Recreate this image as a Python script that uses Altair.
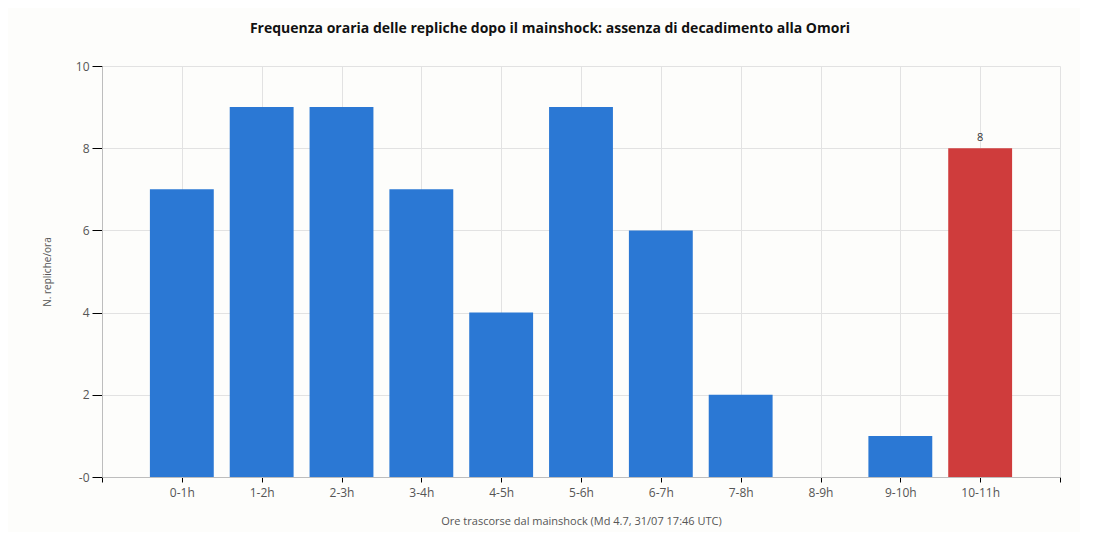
import json
import altair as alt
import pandas as pd

labels = ["0-1h", "1-2h", "2-3h", "3-4h", "4-5h", "5-6h", "6-7h", "7-8h", "8-9h", "9-10h", "10-11h"]
counts = [7, 9, 9, 7, 4, 9, 6, 2, 0, 1, 8]
highlight = [False] * 10 + [True]

df = pd.DataFrame({
    "idx": list(range(len(labels))),
    "fascia": labels,
    "n": counts,
    "hl": highlight,
})

label_js = json.dumps(labels)
x_label_expr = f"(datum.value >= 0 && datum.value <= {len(labels)-1}) ? {label_js}[datum.value] : ''"

FONT = "Open Sans"

base = alt.Chart(df).transform_calculate(
    x0="datum.idx - 0.4",
    x1="datum.idx + 0.4",
)

x_enc = alt.X(
    "x0:Q",
    scale=alt.Scale(domain=[-1, len(labels)], nice=False, zero=False),
    axis=alt.Axis(
        values=list(range(-1, len(labels) + 1)),
        labelExpr=x_label_expr,
        title="Ore trascorse dal mainshock (Md 4.7, 31/07 17:46 UTC)",
        grid=True,
        gridColor="#e2e2e2",
        domainColor="#bdbdbd",
        tickColor="#000000",
        tickSize=5,
        labelFontSize=12,
        labelColor="#555555",
        labelPadding=5,
        titleFontSize=11,
        titleFontWeight="normal",
        titleColor="#555555",
        titlePadding=17,
    ),
)

y_enc = alt.Y(
    "n:Q",
    scale=alt.Scale(domain=[0, 10], nice=False),
    axis=alt.Axis(
        values=[0, 2, 4, 6, 8, 10],
        labelExpr="datum.value == 0 ? '-0' : datum.label",
        title="N. repliche/ora",
        grid=True,
        gridColor="#e2e2e2",
        domainColor="#bdbdbd",
        tickColor="#000000",
        tickSize=10,
        labelFontSize=12,
        labelColor="#555555",
        labelPadding=3,
        titleFontSize=10,
        titleFontWeight="normal",
        titleColor="#555555",
        titlePadding=23,
    ),
)

bars = base.mark_bar().encode(
    x=x_enc,
    x2="x1:Q",
    y=y_enc,
    y2=alt.datum(0),
    color=alt.condition("datum.hl", alt.value("#cf3c3c"), alt.value("#2b78d4")),
)

text = base.transform_filter("datum.hl").mark_text(
    dy=-10, fontSize=11, color="#333333", font=FONT
).encode(
    x=alt.X("idx:Q"),
    y=alt.Y("n:Q"),
    text="n:Q",
)

chart = alt.layer(bars, text).properties(
    width=958,
    height=411,
    title=alt.TitleParams(
        "Frequenza oraria delle repliche dopo il mainshock: assenza di decadimento alla Omori",
        fontSize=14,
        fontWeight="bold",
        font=FONT,
        color="#111111",
        anchor="middle",
        dx=-31,
        offset=24,
    ),
    padding={"left": 94, "top": 58, "right": 20, "bottom": 55},
    autosize=alt.AutoSizeParams(type="none"),
    background="#fdfdfb",
).configure_view(stroke=None).configure_axis(
    labelFont=FONT, titleFont=FONT
)

chart.save("out.html", embed_options={"renderer": "svg", "actions": False})
